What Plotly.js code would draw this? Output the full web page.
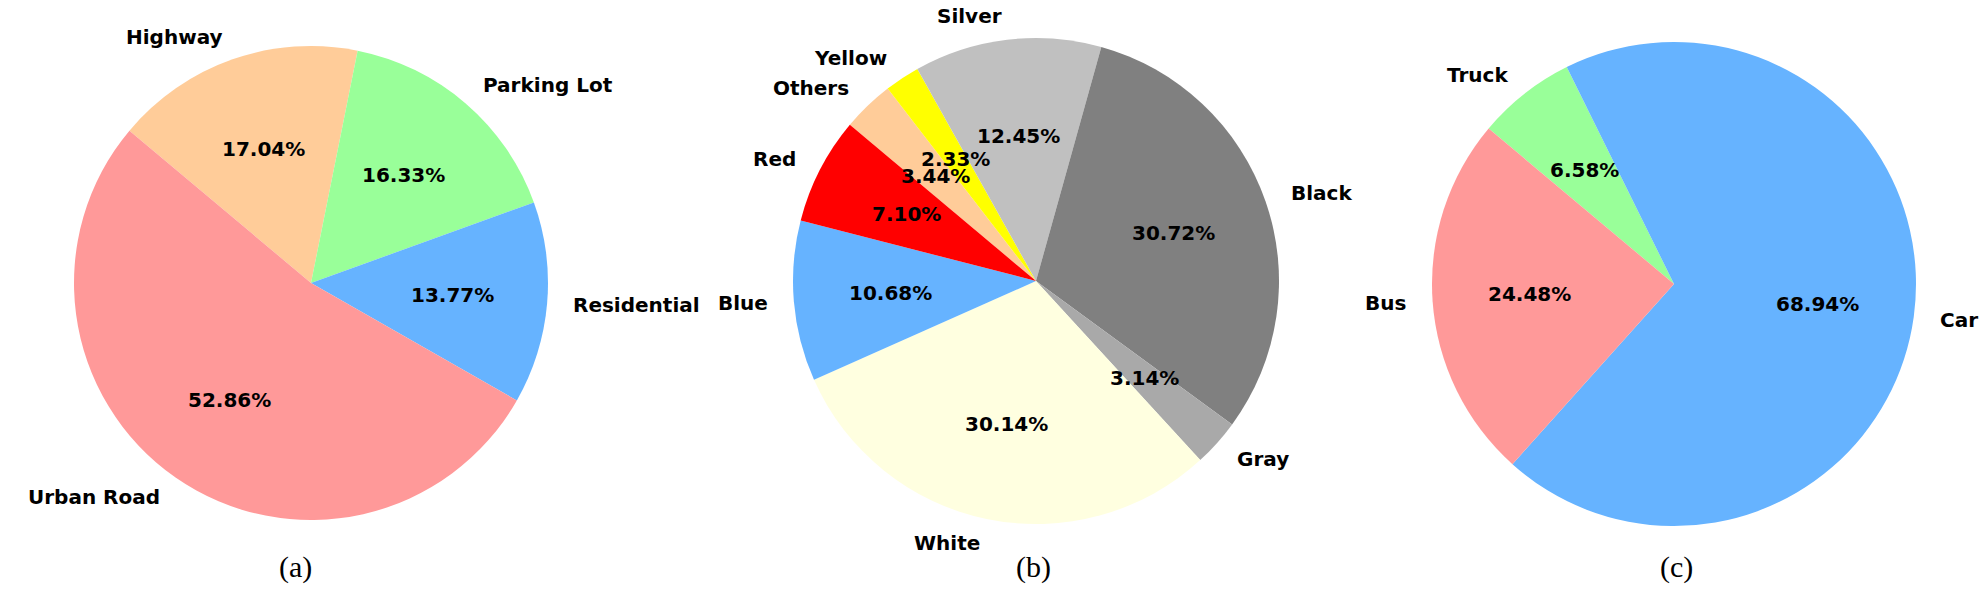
<!DOCTYPE html>
<html><head><meta charset="utf-8">
<script src="https://cdn.plot.ly/plotly-3.0.1.min.js"></script>
<style>html,body{margin:0;padding:0;background:#fff;} #chart{width:1983px;height:598px;}</style>
</head><body><div id="chart"></div>
<script>
// (a) scene type, clockwise from the 140° start line
const sceneLabels = ["Highway", "Parking Lot", "Residential", "Urban Road"];
const sceneValues = [17.04, 16.33, 13.77, 52.86];
const sceneColors = ["#ffcc99", "#99ff99", "#66b3ff", "#ff9999"];
// (b) vehicle colour
const colorLabels = ["Others", "Yellow", "Silver", "Black", "Gray", "White", "Blue", "Red"];
const colorValues = [3.44, 2.33, 12.45, 30.72, 3.14, 30.14, 10.68, 7.10];
const colorColors = ["#ffcc99", "#ffff00", "#c0c0c0", "#808080", "#a9a9a9", "#ffffe0", "#66b3ff", "#ff0000"];
// (c) vehicle type
const typeLabels = ["Truck", "Car", "Bus"];
const typeValues = [6.58, 68.94, 24.48];
const typeColors = ["#99ff99", "#66b3ff", "#ff9999"];
const panelTags = ["(a)", "(b)", "(c)"];

const W = 1983, H = 598;
const START = 140;          // start angle (deg, math convention)
const LABEL_DIST = 1.1, PCT_DIST = 0.6;
const panels = [
  {labels: sceneLabels, values: sceneValues, colors: sceneColors, cx: 311, cy: 283, r: 237, tagX: 295},
  {labels: colorLabels, values: colorValues, colors: colorColors, cx: 1036, cy: 281, r: 243, tagX: 1033},
  {labels: typeLabels, values: typeValues, colors: typeColors, cx: 1674, cy: 284, r: 242, tagX: 1676}
];
const TAG_Y = 567;

const labelFont = {family: "DejaVu Sans", size: 20, color: "#000", weight: "bold"};
const tagFont = {family: "Liberation Serif", size: 30, color: "#000"};

const traces = [];
const annotations = [];
panels.forEach((p, k) => {
  traces.push({
    type: "pie",
    labels: p.labels,
    values: p.values,
    sort: false,
    direction: "clockwise",
    rotation: 90 - START,
    textinfo: "none",
    hoverinfo: "label+percent",
    marker: {colors: p.colors, line: {width: 0}},
    domain: {
      x: [(p.cx - p.r) / W, (p.cx + p.r) / W],
      y: [1 - (p.cy + p.r) / H, 1 - (p.cy - p.r) / H]
    },
    showlegend: false
  });
  const total = p.values.reduce((a, b) => a + b, 0);
  let theta = START;
  p.values.forEach((v, i) => {
    const span = v / total * 360;
    const mid = (theta - span / 2) * Math.PI / 180;
    theta -= span;
    const c = Math.cos(mid), s = Math.sin(mid);
    const lx = p.cx + LABEL_DIST * p.r * c, ly = p.cy - LABEL_DIST * p.r * s;
    annotations.push({
      xref: "paper", yref: "paper", x: lx / W, y: 1 - ly / H,
      text: p.labels[i], showarrow: false, font: labelFont,
      xanchor: c > 0 ? "left" : "right", yanchor: "middle"
    });
    const px = p.cx + PCT_DIST * p.r * c, py = p.cy - PCT_DIST * p.r * s;
    annotations.push({
      xref: "paper", yref: "paper", x: px / W, y: 1 - py / H,
      text: (v / total * 100).toFixed(2) + "%", showarrow: false, font: labelFont,
      xanchor: "center", yanchor: "middle"
    });
  });
  annotations.push({
    xref: "paper", yref: "paper", x: p.tagX / W, y: 1 - TAG_Y / H,
    text: panelTags[k], showarrow: false, font: tagFont,
    xanchor: "center", yanchor: "middle"
  });
});

Plotly.newPlot("chart", traces, {
  width: W, height: H,
  margin: {l: 0, r: 0, t: 0, b: 0},
  paper_bgcolor: "#ffffff",
  plot_bgcolor: "#ffffff",
  annotations: annotations
}, {displayModeBar: false, responsive: false});
</script>
</body></html>
